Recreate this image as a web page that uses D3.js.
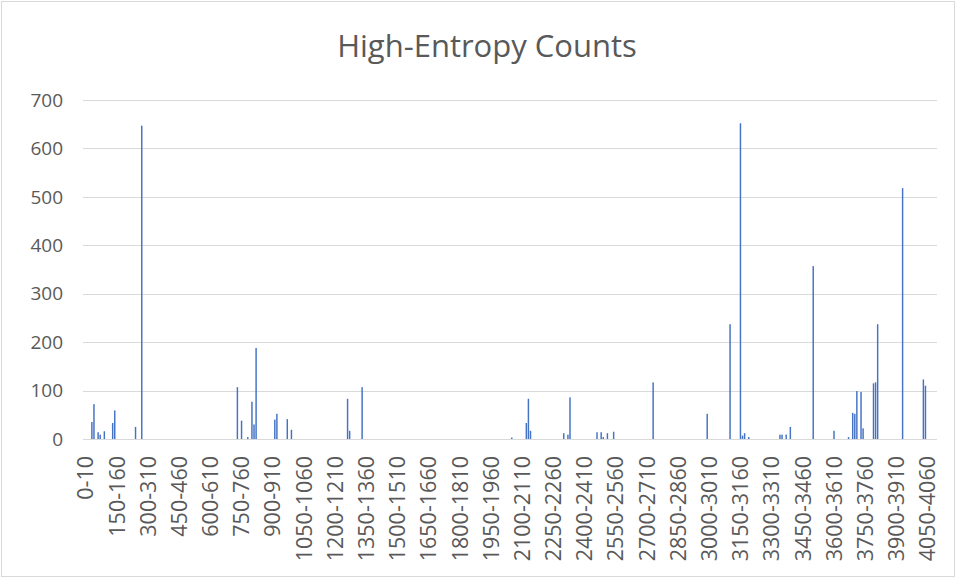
<!DOCTYPE html>
<html>
<head>
<meta charset="utf-8">
<script src="https://cdn.jsdelivr.net/npm/d3@7"></script>
<style>
  body { margin: 0; background: #fff; }
  text { font-family: "Open Sans", sans-serif; fill: #595959; }
</style>
</head>
<body>
<div id="chart"></div>
<script>
// bins are 10 wide, 0-10 up to 4090-4100
const binWidth = 10;
const binCount = 410;
const categories = d3.range(binCount).map(i => (i * binWidth) + "-" + (i * binWidth + binWidth));

// only the bins that have a count, everything else is 0
const binStarts = [30, 40, 60, 70, 90, 130, 140, 240, 270, 730, 750, 780, 800, 810, 820, 910, 920, 970, 990,
    1260, 1270, 1330, 2050, 2120, 2130, 2140, 2300, 2320, 2330, 2460, 2480, 2490, 2510, 2540, 2730, 2990,
    3100, 3150, 3160, 3170, 3190, 3340, 3350, 3370, 3390, 3500, 3600, 3670, 3690, 3700, 3710, 3730, 3740,
    3790, 3800, 3810, 3930, 4030, 4040];
const binCounts = [35, 72, 14, 9, 16, 33, 59, 25, 647, 107, 38, 4, 77, 30, 188, 40, 52, 41, 19,
    83, 17, 107, 3, 33, 83, 17, 12, 9, 86, 14, 14, 4, 12, 15, 117, 52,
    237, 652, 7, 12, 4, 9, 9, 9, 25, 357, 17, 4, 54, 52, 99, 97, 22,
    115, 117, 237, 518, 123, 110];

const yTicks = [0, 100, 200, 300, 400, 500, 600, 700];
const title = "High-Entropy Counts";

let counts = new Map(binStarts.map((s, i) => [s, binCounts[i]]));
let data = categories.map((c, i) => ({cat: c, value: counts.get(i * binWidth) || 0}));

const W = 956, H = 578;
let margin = {top: 100, right: 19, bottom: 139, left: 84};

let svg = d3.select("#chart").append("svg")
    .attr("width", W)
    .attr("height", H);

// chart border
svg.append("rect")
    .attr("x", 1.5).attr("y", 1.5)
    .attr("width", W - 3).attr("height", H - 3)
    .attr("fill", "#fff")
    .attr("stroke", "#d9d9d9");

let x = d3.scaleBand()
    .domain(categories)
    .range([margin.left + 0.5, W - margin.right])
    .paddingInner(0.3)
    .paddingOuter(0.2);

let y = d3.scaleLinear()
    .domain([0, 700])
    .range([H - margin.bottom, margin.top]);

// gridlines
svg.append("g")
    .selectAll("line")
    .data(yTicks)
    .enter()
    .append("line")
    .attr("x1", margin.left - 1)
    .attr("x2", W - margin.right)
    .attr("y1", d => Math.round(y(d)) + 0.5)
    .attr("y2", d => Math.round(y(d)) + 0.5)
    .attr("stroke", "#d9d9d9")
    .attr("stroke-width", 1);

// y labels
svg.append("g")
    .selectAll("text")
    .data(yTicks)
    .enter()
    .append("text")
    .attr("x", 63)
    .attr("y", d => y(d))
    .attr("dy", "0.35em")
    .attr("text-anchor", "end")
    .style("font-size", "19px")
    .text(d => d);

// bars
svg.append("g")
    .selectAll("rect")
    .data(data.filter(d => d.value > 0))
    .enter()
    .append("rect")
    .attr("x", d => x(d.cat))
    .attr("y", d => y(d.value))
    .attr("width", x.bandwidth())
    .attr("height", d => y(0) - y(d.value))
    .attr("fill", "#4472c4");

// x axis, label every 15th bin
let xAxis = d3.axisBottom(x)
    .tickValues(categories.filter((c, i) => i % 15 === 0))
    .tickSize(0);

let xg = svg.append("g")
    .attr("transform", "translate(0," + y(0) + ")")
    .call(xAxis);
xg.select(".domain").remove();
xg.selectAll("text")
    .attr("transform", "rotate(-90)")
    .attr("text-anchor", "end")
    .attr("x", -17)
    .attr("y", 0)
    .attr("dy", "0.36em")
    .style("font-family", "Open Sans, sans-serif")
    .style("font-size", "21.5px")
    .style("fill", "#595959");

// title
svg.append("text")
    .attr("x", 487)
    .attr("y", 57)
    .attr("text-anchor", "middle")
    .style("font-size", "31px")
    .text(title);
</script>
</body>
</html>
